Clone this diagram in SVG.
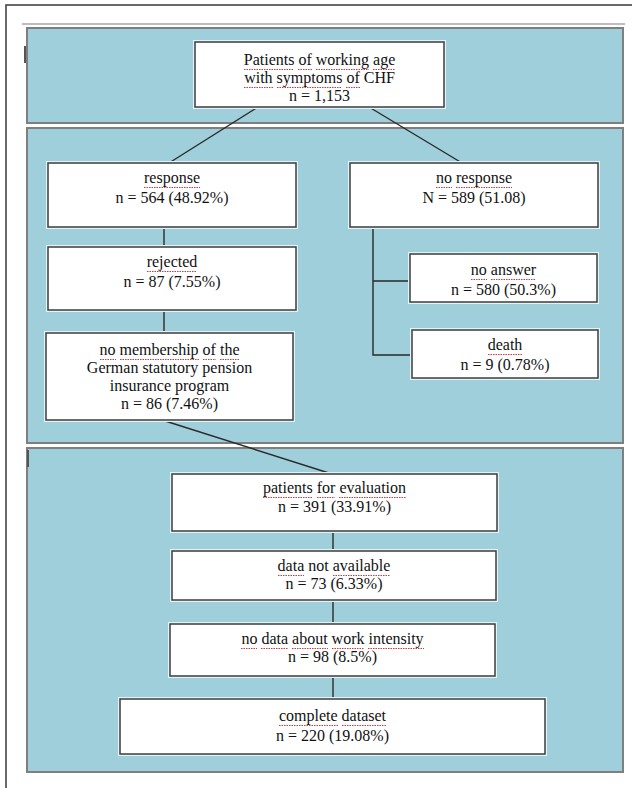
<svg xmlns="http://www.w3.org/2000/svg" width="632" height="788" viewBox="0 0 632 788">
<style>
.bg{fill:#ffffff}
.frame{fill:none;stroke:#3a3a3a;stroke-width:1.5}
.panel{fill:#9fcfdb;stroke:#7f7f7f;stroke-width:2}
.halo{fill:none;stroke:#e4f3f7;stroke-width:4}
.box{fill:#ffffff;stroke:#3c3c3c;stroke-width:1.5}
.t{font-family:"Liberation Serif","Times New Roman",serif;font-size:16px;fill:#111111;text-anchor:middle}
.c{fill:none;stroke:#2a2a2a;stroke-width:1.4}
.sq{fill:none;stroke:#d03a3a;stroke-width:1;stroke-dasharray:1.5 1}
.tick{stroke:#555;stroke-width:2}
</style>
<rect class="bg" x="0" y="0" width="632" height="788"/>
<path class="frame" d="M6,788 V5 H632"/>
<line x1="22" y1="24" x2="625" y2="24" stroke="#bdbdbd" stroke-width="2"/>

<g id="panels">
  <rect class="panel" x="27" y="28" width="596" height="95"/>
  <rect class="panel" x="27" y="128" width="596" height="315"/>
  <rect class="panel" x="27" y="448" width="596" height="324"/>
  <line class="tick" x1="25" y1="46" x2="25" y2="63"/>
  <line class="tick" x1="28" y1="450" x2="28" y2="467"/>
</g>

<g id="connectors">
  <line class="c" x1="258" y1="107" x2="169" y2="163"/>
  <line class="c" x1="369" y1="107" x2="462" y2="163"/>
  <line class="c" x1="164" y1="227" x2="164" y2="247"/>
  <line class="c" x1="164" y1="310" x2="164" y2="333"/>
  <path class="c" d="M373,227 V355 H412 M373,281 H410"/>
  <line class="c" x1="162" y1="420" x2="332" y2="474"/>
  <line class="c" x1="333" y1="531" x2="333" y2="551"/>
  <line class="c" x1="333" y1="600" x2="333" y2="624"/>
  <line class="c" x1="333" y1="676" x2="333" y2="699"/>
</g>

<g id="n-start">
  <rect class="halo" x="195" y="42" width="249" height="65"/>
  <rect class="box" x="195" y="42" width="249" height="65"/>
  <text class="t" x="319.5" y="65">Patients of working age</text>
  <text class="t" x="319.5" y="83">with symptoms of CHF</text>
  <text class="t" x="319.5" y="101">n = 1,153</text>
  <path class="sq" d="M244,69.5 H294 M298,69.5 H312 M316,69.5 H369 M373,69.5 H395 M244,87.5 H273 M277,87.5 H342 M346,87.5 H360"/>
</g>

<g id="n-response">
  <rect class="halo" x="48" y="163" width="248" height="64"/>
  <rect class="box" x="48" y="163" width="248" height="64"/>
  <text class="t" x="172" y="183">response</text>
  <text class="t" x="172" y="203">n = 564 (48.92%)</text>
  <path class="sq" d="M144,187.5 H200"/>
</g>

<g id="n-noresponse">
  <rect class="halo" x="350" y="163" width="248" height="64"/>
  <rect class="box" x="350" y="163" width="248" height="64"/>
  <text class="t" x="474" y="183">no response</text>
  <text class="t" x="474" y="203">N = 589 (51.08)</text>
  <path class="sq" d="M436,187.5 H452 M456,187.5 H512"/>
</g>

<g id="n-rejected">
  <rect class="halo" x="48" y="247" width="248" height="63"/>
  <rect class="box" x="48" y="247" width="248" height="63"/>
  <text class="t" x="172" y="267">rejected</text>
  <text class="t" x="172" y="287">n = 87 (7.55%)</text>
  <path class="sq" d="M147,271.5 H197"/>
</g>

<g id="n-noanswer">
  <rect class="halo" x="410" y="254" width="187" height="48"/>
  <rect class="box" x="410" y="254" width="187" height="48"/>
  <text class="t" x="503.5" y="275">no answer</text>
  <text class="t" x="503.5" y="295">n = 580 (50.3%)</text>
  <path class="sq" d="M471,279.5 H487 M491,279.5 H536"/>
</g>

<g id="n-death">
  <rect class="halo" x="412" y="330" width="186" height="48"/>
  <rect class="box" x="412" y="330" width="186" height="48"/>
  <text class="t" x="505" y="350">death</text>
  <text class="t" x="505" y="370">n = 9 (0.78%)</text>
  <path class="sq" d="M488,354.5 H522"/>
</g>

<g id="n-membership">
  <rect class="halo" x="46" y="333" width="247" height="87"/>
  <rect class="box" x="46" y="333" width="247" height="87"/>
  <text class="t" x="169.5" y="355">no membership of the</text>
  <text class="t" x="169.5" y="373">German statutory pension</text>
  <text class="t" x="169.5" y="391">insurance program</text>
  <text class="t" x="169.5" y="409">n = 86 (7.46%)</text>
  <path class="sq" d="M100,359.5 H116 M120,359.5 H199 M203,359.5 H216 M220,359.5 H240"/>
</g>

<g id="n-evaluation">
  <rect class="halo" x="172" y="474" width="325" height="57"/>
  <rect class="box" x="172" y="474" width="325" height="57"/>
  <text class="t" x="334.5" y="493">patients for evaluation</text>
  <text class="t" x="334.5" y="512">n = 391 (33.91%)</text>
  <path class="sq" d="M263,497.5 H313 M317,497.5 H335 M339,497.5 H406"/>
</g>

<g id="n-notavailable">
  <rect class="halo" x="172" y="551" width="324" height="49"/>
  <rect class="box" x="172" y="551" width="324" height="49"/>
  <text class="t" x="334" y="571">data not available</text>
  <text class="t" x="334" y="589">n = 73 (6.33%)</text>
  <path class="sq" d="M278,575.5 H304 M333,575.5 H390"/>
</g>

<g id="n-nointensity">
  <rect class="halo" x="170" y="624" width="325" height="52"/>
  <rect class="box" x="170" y="624" width="325" height="52"/>
  <text class="t" x="332.5" y="644">no data about work intensity</text>
  <text class="t" x="332.5" y="662">n = 98 (8.5%)</text>
  <path class="sq" d="M241,648.5 H257 M261,648.5 H288 M292,648.5 H328 M332,648.5 H364 M368,648.5 H424"/>
</g>

<g id="n-complete">
  <rect class="halo" x="120" y="699" width="425" height="55"/>
  <rect class="box" x="120" y="699" width="425" height="55"/>
  <text class="t" x="332.5" y="721">complete dataset</text>
  <text class="t" x="332.5" y="741">n = 220 (19.08%)</text>
  <path class="sq" d="M279,725.5 H338 M342,725.5 H386"/>
</g>
</svg>
